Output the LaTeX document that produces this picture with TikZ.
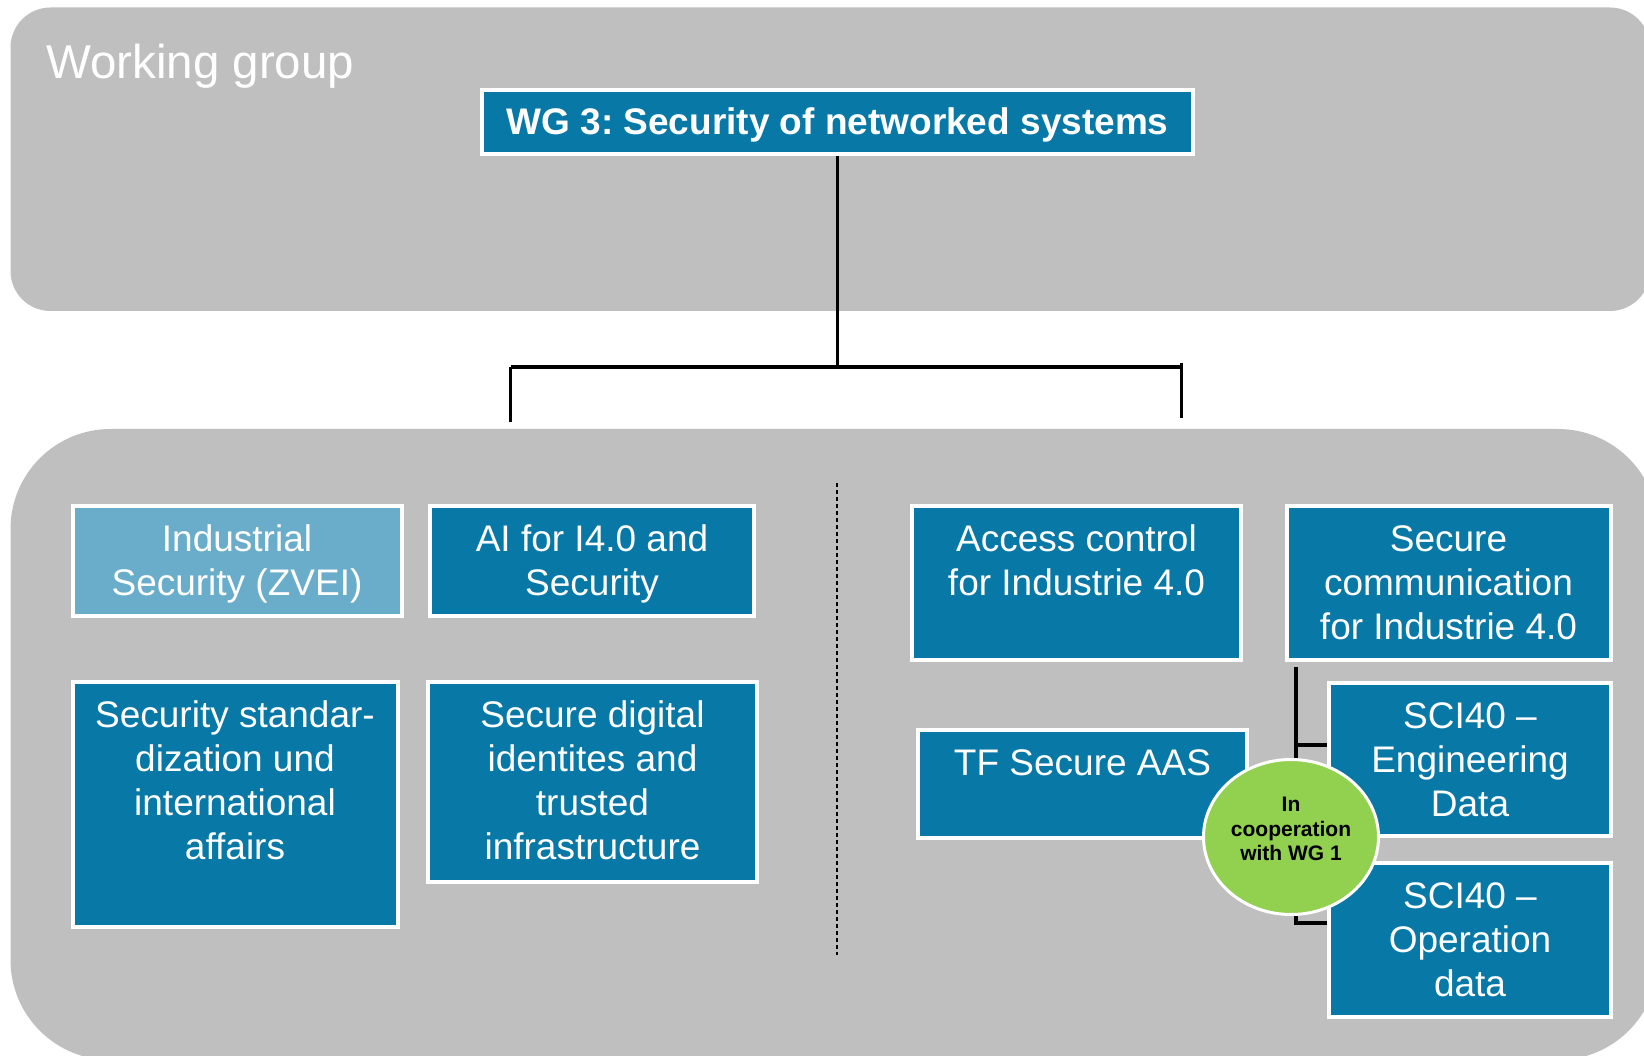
\documentclass[tikz,border=0pt]{standalone}
\usepackage{fontspec}
\setmainfont{Liberation Sans}
\usetikzlibrary{shapes.geometric}
\definecolor{panelgray}{RGB}{191,191,191}
\definecolor{wgblue}{RGB}{8,120,167}
\definecolor{wglight}{RGB}{106,173,202}
\definecolor{coopgreen}{RGB}{146,208,80}
\frenchspacing

\begin{document}
\begin{tikzpicture}[x=1pt,y=-1pt,
  panel/.style={fill=panelgray},
  wgbox/.style={draw=white, line width=4pt, fill=wgblue, inner sep=0pt, outer sep=2pt},
  lightbox/.style={wgbox, fill=wglight},
  boxtext/.style={text=white, align=center, inner sep=0pt, anchor=north,
    font=\fontsize{37}{44}\selectfont},
  link/.style={draw=black, line width=3pt},
  bar/.style={draw=black, line width=4.3pt},
  bracket/.style={draw=black, line width=4pt},
  coopshape/.style={ellipse, draw=white, line width=3pt, fill=coopgreen,
    inner sep=0pt, outer sep=1.5pt, minimum width=175pt, minimum height=155pt},
  cooptext/.style={text=black, align=center, inner sep=0pt, anchor=north,
    font=\fontsize{21}{24.5}\selectfont\bfseries}]

\useasboundingbox (0,0) rectangle (1644,1056);
\fill[white] (0,0) rectangle (1644,1056);
\clip (0,0) rectangle (1644,1056);

% background panels
\fill[panel, rounded corners=40pt] (10.5,7.5) rectangle (1650,311);
\fill[panel, rounded corners=100pt] (10.5,429) rectangle (1658,1060);

\node[anchor=base west, text=white, inner sep=0pt,
  font=\fontsize{47.5}{57}\selectfont] (wglabel) at (46,79) {Working group};

% working group head
\node[wgbox, minimum width=711pt, minimum height=64pt, text=white,
  font=\fontsize{37}{44}\selectfont\bfseries, text height=26pt, text depth=0pt]
  (title) at (837.5,122) {WG 3: Security of networked systems};

% tree connector below the head
\coordinate (hub) at (837.5,367);
\coordinate (barL) at (510.5,367);
\coordinate (barR) at (1181,367);
\coordinate (tickR) at (1181,363);
\coordinate (legL) at (510.5,422);
\coordinate (legR) at (1181,418);
\draw[link] (title.south) -- (hub);
\draw[bar] (barL) -- (barR);
\draw[link] (barL) -- (legL);
\draw[link] (tickR) -- (legR);

% divider between the two groups
\coordinate (dtop) at (837,483);
\coordinate (dbot) at (837,955);
\draw[black, line width=1.1pt, dash pattern=on 4pt off 3pt] (dtop) -- (dbot);

% left group
\node[lightbox, minimum width=329pt, minimum height=109.5pt] (ind) at (237,560.75) {};
\node[wgbox, minimum width=324pt, minimum height=109.5pt] (ai) at (592,560.75) {};
\node[wgbox, minimum width=325pt, minimum height=245pt] (std) at (235,804.5) {};
\node[wgbox, minimum width=329pt, minimum height=200pt] (dig) at (592.5,782) {};

% right group: bracket behind the boxes
\coordinate (brtop) at (1296,667);
\coordinate (brmid) at (1296,745);
\coordinate (brbot) at (1296,923);
\coordinate (opend) at (1336,923);
\draw[bracket] (brtop) -- (brbot) -- (opend);
\draw[bracket] (brmid) -- (1329,745);

\node[wgbox, minimum width=329pt, minimum height=154pt] (acc) at (1076.5,582.5) {};
\node[wgbox, minimum width=324pt, minimum height=154pt] (com) at (1448.5,582.5) {};
\node[wgbox, minimum width=329pt, minimum height=108pt] (aas) at (1082.5,784) {};
\node[wgbox, minimum width=282pt, minimum height=153pt] (eng) at (1470,759.5) {};
\node[wgbox, minimum width=282pt, minimum height=154pt] (op) at (1470,940) {};

% box labels
\node[boxtext] (indt) at ([yshift=-16.7pt]ind.north) {\strut Industrial\\Security (ZVEI)};
\node[boxtext] (ait) at ([yshift=-16.7pt]ai.north) {\strut AI for I4.0 and\\Security};
\node[boxtext] (stdt) at ([yshift=-16.7pt]std.north) {\strut Security standar-\\dization und\\international\\affairs};
\node[boxtext] (digt) at ([yshift=-16.7pt]dig.north) {\strut Secure digital\\identites and\\trusted\\infrastructure};
\node[boxtext] (acct) at ([yshift=-16.7pt]acc.north) {\strut Access control\\for Industrie 4.0};
\node[boxtext] (comt) at ([yshift=-16.7pt]com.north) {\strut Secure\\communication\\for Industrie 4.0};
\node[boxtext] (aast) at ([yshift=-16.7pt]aas.north) {\strut TF Secure AAS};
\node[boxtext] (engt) at ([yshift=-16.7pt]eng.north) {\strut SCI40 –\\Engineering\\Data};
\node[boxtext] (opt) at ([yshift=-16.7pt]op.north) {\strut SCI40 –\\Operation\\data};

% cooperation marker
\node[coopshape] (coop) at (1291,837) {};
\node[cooptext] (coopt) at ([yshift=42.5pt]coop.center) {\strut In\\cooperation\\with WG 1};

\end{tikzpicture}
\end{document}
